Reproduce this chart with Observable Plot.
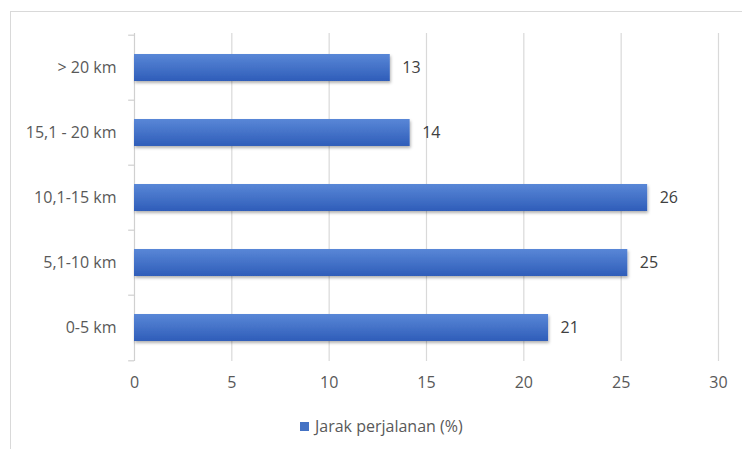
<!DOCTYPE html>
<html><head><meta charset="utf-8">
<script src="https://cdn.jsdelivr.net/npm/d3@7"></script>
<script src="https://cdn.jsdelivr.net/npm/@observablehq/plot@0.6"></script>
<style>
body{margin:0;background:#fff;font-family:"Open Sans",sans-serif;}
#wrap{position:relative;width:742px;height:449px;overflow:hidden;background:#fff;}
#frame{position:absolute;left:10px;top:11px;width:780px;height:480px;border:1px solid #d9d9d9;box-sizing:border-box;}
#chart{position:absolute;left:0;top:0;}
#legend{position:absolute;left:300px;top:415px;font-size:16px;color:#595959;display:flex;align-items:center;white-space:nowrap;}
#legend .sw{width:9px;height:9px;background:#4472c4;margin-right:6px;}
</style>
</head><body>
<div id="wrap"><div id="frame"></div><div id="chart"></div>
<div id="legend"><span class="sw"></span><span>Jarak perjalanan (%)</span></div></div>
<script>
const categories = ["0-5 km", "5,1-10 km", "10,1-15 km", "15,1 - 20 km", "> 20 km"];
const values = [21.27, 25.34, 26.36, 14.16, 13.14];
const valueLabels = ["21", "25", "26", "14", "13"];
const xTicks = [0, 5, 10, 15, 20, 25, 30];

const data = categories.map((c, i) => ({cat: c, v: values[i], lab: valueLabels[i]}));
const H = 400, mT = 33, mB = 39;
const step = (H - mT - mB) / categories.length;

const defs = () => {
  const d = d3.create("svg:defs");
  const g = d.append("linearGradient").attr("id", "barGrad").attr("x1", 0).attr("y1", 0).attr("x2", 0).attr("y2", 1);
  g.append("stop").attr("offset", "0%").attr("stop-color", "#5987d7");
  g.append("stop").attr("offset", "100%").attr("stop-color", "#2f5db9");
  const f = d.append("filter").attr("id", "shadow").attr("x", "-5%").attr("y", "-30%").attr("width", "110%").attr("height", "170%");
  f.append("feDropShadow").attr("dx", 1).attr("dy", 2).attr("stdDeviation", 1.5).attr("flood-color", "#000").attr("flood-opacity", 0.3);
  return d.node();
};

const chart = Plot.plot({
  width: 742, height: H,
  marginLeft: 134, marginRight: 24, marginTop: mT, marginBottom: mB,
  style: {fontFamily: "'Open Sans', sans-serif", fontSize: "16px", color: "#595959", background: "transparent"},
  x: {domain: [0, 30], ticks: xTicks},
  y: {domain: categories.slice().reverse(), paddingInner: 0.59, paddingOuter: 0.295, label: null},
  marks: [
    defs,
    Plot.gridX(xTicks.slice(1), {stroke: "#d9d9d9", strokeOpacity: 1, strokeWidth: 1.2}),
    Plot.ruleX([0], {stroke: "#d0d0d0", strokeWidth: 1.2}),
    Plot.ruleY(categories, {y: d => d, x1: -0.3, x2: 0, dy: -step / 2, stroke: "#d0d0d0", strokeWidth: 1.2}),
    Plot.ruleY([categories[0]], {y: d => d, x1: -0.3, x2: 0, dy: step / 2, stroke: "#d0d0d0", strokeWidth: 1.2}),
    Plot.barX(data, {x: "v", y: "cat", fill: "url(#barGrad)"}),
    Plot.text(data, {x: "v", y: "cat", text: "lab", textAnchor: "start", dx: 12, fontSize: 16, fill: "#404040"}),
    Plot.axisX({ticks: xTicks, tickSize: 0, tickPadding: 15, label: null, fontSize: 16}),
    Plot.axisY({tickSize: 0, tickPadding: 18, label: null, fontSize: 16})
  ]
});
chart.querySelectorAll('g[aria-label="bar"]').forEach(g => g.setAttribute("filter", "url(#shadow)"));
document.getElementById("chart").appendChild(chart);
</script>
</body></html>
